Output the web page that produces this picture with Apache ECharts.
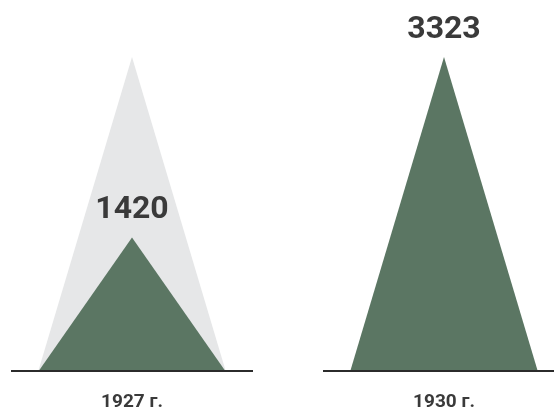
<!DOCTYPE html>
<html>
<head>
<meta charset="utf-8">
<script src="https://cdn.jsdelivr.net/npm/echarts@6/dist/echarts.min.js"></script>
<style>
html,body{margin:0;padding:0;background:#fff;}
#chart{width:554px;height:412px;}
</style>
</head>
<body>
<div id="chart"></div>
<script>
const categories = ['1927 г.', '1930 г.'];
const values = [1420, 3323];
const backgroundValues = [3323, '-'];
const baselineValues = [0, 0];

const FONT = "Roboto, 'Liberation Sans', sans-serif";
const GREEN = '#5b7663';
const GRAY = '#e6e7e8';
const DARK = '#3a3a3a';

const chart = echarts.init(document.getElementById('chart'), null, {renderer: 'canvas'});
chart.setOption({
  animation: false,
  backgroundColor: '#ffffff',
  grid: {left: 132, right: 110, top: 57, bottom: 40},
  xAxis: {
    type: 'category',
    data: categories,
    boundaryGap: false,
    axisLine: {show: false},
    axisTick: {show: false},
    splitLine: {show: false},
    axisLabel: {
      margin: 21,
      fontFamily: FONT,
      fontWeight: 'bold',
      fontSize: 19,
      color: DARK
    }
  },
  yAxis: {
    type: 'value',
    min: 0,
    max: 3323,
    show: false
  },
  series: [
    {
      type: 'pictorialBar',
      data: backgroundValues,
      symbol: 'triangle',
      symbolSize: [188, '100%'],
      barGap: '-100%',
      itemStyle: {color: GRAY},
      z: 1,
      silent: true
    },
    {
      type: 'pictorialBar',
      data: values,
      symbol: 'triangle',
      symbolSize: [188, '100%'],
      barGap: '-100%',
      itemStyle: {color: GREEN},
      z: 2,
      label: {
        show: true,
        position: 'top',
        distance: 11,
        fontFamily: FONT,
        fontWeight: 'bold',
        fontSize: 32,
        color: DARK
      }
    },
    {
      type: 'pictorialBar',
      data: baselineValues,
      symbol: 'rect',
      symbolSize: [242, 2],
      barGap: '-100%',
      symbolClip: false,
      itemStyle: {color: '#2b2b2b'},
      z: 3,
      silent: true
    }
  ]
});
</script>
</body>
</html>
